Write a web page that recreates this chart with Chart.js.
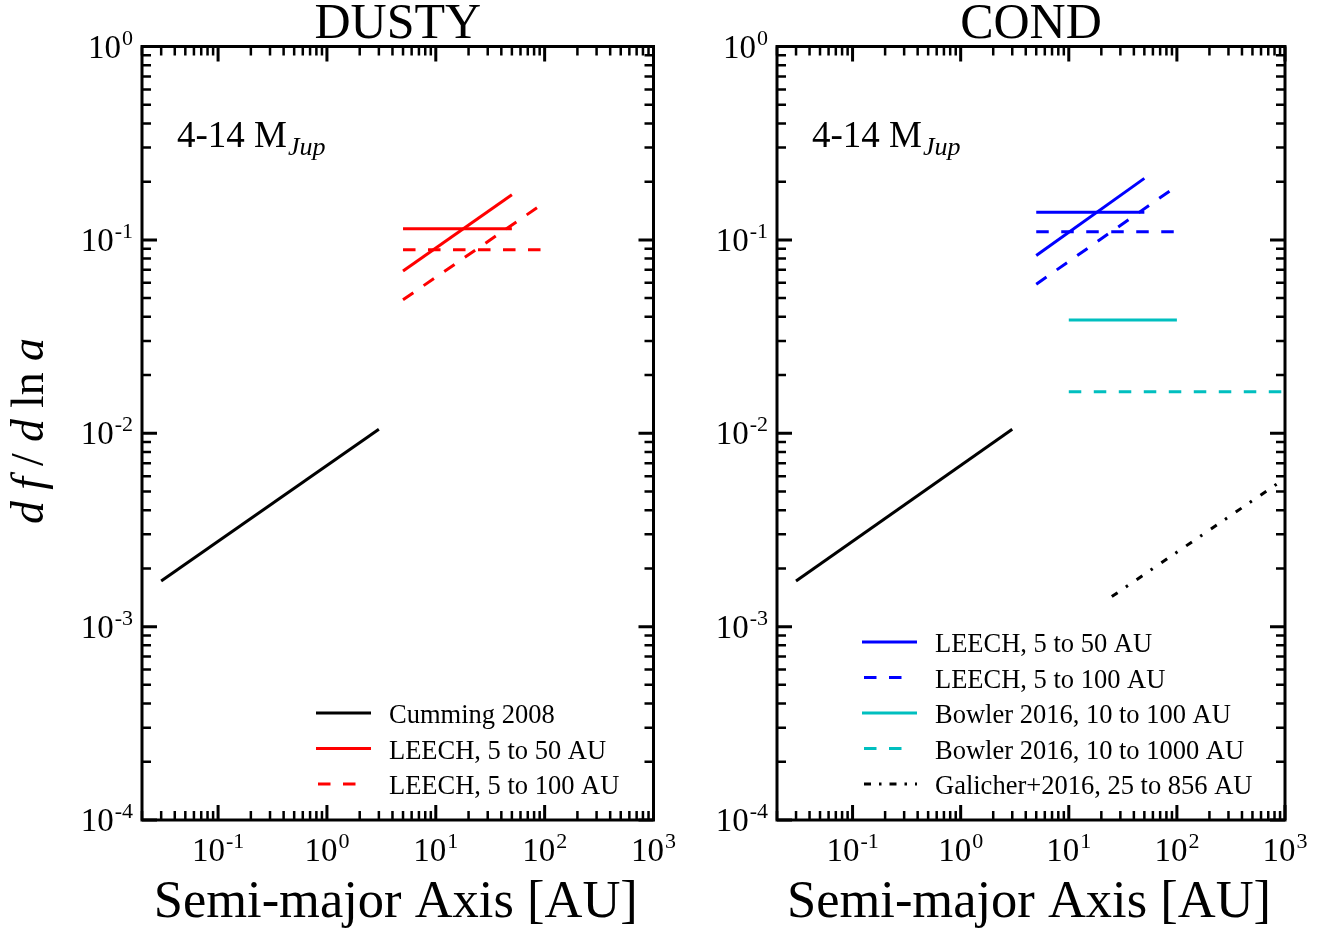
<!DOCTYPE html>
<html lang="en">
<head>
<meta charset="UTF-8">
<title>DUSTY / COND</title>
<style>
  html, body { margin: 0; padding: 0; background: #fff; overflow: hidden; width: 1333px; height: 930px; }
  canvas { position: absolute; top: 0; }
  #dusty { left: 0; }
  #cond { left: 635px; }
</style>
</head>
<body>
<canvas id="dusty" width="700" height="930"></canvas>
<canvas id="cond" width="700" height="930"></canvas>

<script src="https://cdn.jsdelivr.net/npm/chart.js"></script>
<script>
// --- data (a in AU, df/dlna) ---
const cummingA = [0.03, 3];
const cummingF = [0.00172, 0.0105];

// DUSTY panel
const dustyLeech50A = [5, 50];
const dustyLeech50Flat = [0.114, 0.114];
const dustyLeech50Slope = [0.069, 0.171];
const dustyLeech100A = [5, 100];
const dustyLeech100Flat = [0.089, 0.089];
const dustyLeech100Slope = [0.049, 0.156];

// COND panel
const condLeech50A = [5, 50];
const condLeech50Flat = [0.139, 0.139];
const condLeech50Slope = [0.083, 0.208];
const condLeech100A = [5, 100];
const condLeech100Flat = [0.110, 0.110];
const condLeech100Slope = [0.059, 0.19];
const bowler100A = [10, 100];
const bowler100F = [0.0385, 0.0385];
const bowler1000A = [10, 1000];
const bowler1000F = [0.0164, 0.0164];
const galicherA = [25, 856];
const galicherF = [0.00143, 0.0055];

// axes
const xRange = [0.02, 1000];
const yRange = [1e-4, 1];
const xDecades = [-1, 0, 1, 2, 3];
const yDecades = [-4, -3, -2, -1, 0];

const RED = '#ff0000', BLUE = '#0000ff', CYAN = '#00bfbf', BLACK = '#000000';
const DASH = [12.5, 12.5];
const DASHDOT = [7, 10, 2.5, 10.5];
const SERIF = '"Liberation Serif", "DejaVu Serif", serif';

function series(label, a, f, color, dash) {
  return {
    label: label,
    data: a.map((v, i) => ({ x: v, y: f[i] })),
    borderColor: color,
    borderWidth: 3,
    borderDash: dash || [],
    borderCapStyle: 'butt',
    pointRadius: 0,
    fill: false,
    tension: 0
  };
}

// "10" with a raised exponent
function powLabel(ctx, e, x, y, align) {
  const base = '10', sup = String(e);
  ctx.font = '33px ' + SERIF;
  const wb = ctx.measureText(base).width;
  ctx.font = '22px ' + SERIF;
  const ws = ctx.measureText(sup).width;
  const w = wb + 1 + ws;
  const x0 = align === 'center' ? x - w / 2 : x - w;
  ctx.textAlign = 'left';
  ctx.textBaseline = 'alphabetic';
  ctx.font = '33px ' + SERIF;
  ctx.fillText(base, x0, y);
  ctx.font = '22px ' + SERIF;
  ctx.fillText(sup, x0 + wb + 1, y - 13);
}

function framePlugin(title, legendItems, legendX, showYTitle) {
  return {
    id: 'frame',
    afterDraw(chart) {
      const ctx = chart.ctx;
      const { left, right, top, bottom } = chart.chartArea;
      const xs = chart.scales.x, ys = chart.scales.y;
      ctx.save();
      ctx.fillStyle = BLACK;
      ctx.strokeStyle = BLACK;

      // inward ticks on all four sides
      ctx.lineCap = 'butt';
      for (let e = -2; e <= 3; e++) {
        for (let m = 1; m <= 9; m++) {
          const v = m * Math.pow(10, e);
          if (v < xRange[0] || v > xRange[1]) continue;
          const px = xs.getPixelForValue(v);
          const len = m === 1 ? 15 : 9;
          ctx.lineWidth = m === 1 ? 3 : 2.5;
          ctx.beginPath();
          ctx.moveTo(px, bottom); ctx.lineTo(px, bottom - len);
          ctx.moveTo(px, top); ctx.lineTo(px, top + len);
          ctx.stroke();
        }
      }
      for (let e = -4; e <= 0; e++) {
        for (let m = 1; m <= 9; m++) {
          const v = m * Math.pow(10, e);
          if (v < yRange[0] || v > yRange[1]) continue;
          const py = ys.getPixelForValue(v);
          const len = m === 1 ? 15 : 9;
          ctx.lineWidth = m === 1 ? 3 : 2.5;
          ctx.beginPath();
          ctx.moveTo(left, py); ctx.lineTo(left + len, py);
          ctx.moveTo(right, py); ctx.lineTo(right - len, py);
          ctx.stroke();
        }
      }

      // frame
      ctx.lineWidth = 3;
      ctx.strokeRect(left, top, right - left, bottom - top);

      // tick labels
      xDecades.forEach(e => powLabel(ctx, e, xs.getPixelForValue(Math.pow(10, e)), bottom + 41, 'center'));
      yDecades.forEach(e => powLabel(ctx, e, left - 9, ys.getPixelForValue(Math.pow(10, e)) + 11, 'right'));

      const cx = (left + right) / 2;
      // panel title
      ctx.textAlign = 'center';
      ctx.font = '50px ' + SERIF;
      ctx.fillText(title, cx, 38);

      // x title
      ctx.font = '52.5px ' + SERIF;
      ctx.fillText('Semi-major Axis [AU]', cx - 2, 917);

      // mass range note
      ctx.textAlign = 'left';
      ctx.font = '37px ' + SERIF;
      const note = '4-14 M';
      ctx.fillText(note, left + 35, 147);
      const nw = ctx.measureText(note).width;
      ctx.font = 'italic 26px ' + SERIF;
      ctx.fillText('Jup', left + 35 + nw + 1, 155);

      // y title
      if (showYTitle) {
        const parts = [['d', 'italic '], ['f', 'italic '], ['/', ''], ['d', 'italic '], ['ln', ''], ['a', 'italic ']];
        ctx.save();
        ctx.translate(43, 431);
        ctx.rotate(-Math.PI / 2);
        let widths = parts.map(p => { ctx.font = p[1] + '46px ' + SERIF; return ctx.measureText(p[0]).width; });
        const sum = widths.reduce((a, b) => a + b, 0);
        const gap = Math.max(2, (186 - sum) / (parts.length - 1));
        let x = -(sum + gap * (parts.length - 1)) / 2;
        parts.forEach((p, i) => {
          ctx.font = p[1] + '46px ' + SERIF;
          ctx.fillText(p[0], x, 0);
          x += widths[i] + gap;
        });
        ctx.restore();
      }

      // legend (bottom right, inside the frame)
      const rowH = 35.5;
      const lastY = bottom - 36;
      const lx0 = left + legendX, tx = lx0 + 73;
      legendItems.forEach((it, i) => {
        const y = lastY - (legendItems.length - 1 - i) * rowH;
        const dashed = it.dash.length > 0;
        // dashed samples show two dashes, like the original legend
        const sx0 = dashed ? lx0 + 2 : lx0;
        const sx1 = dashed ? lx0 + 41 : lx0 + 55;
        ctx.strokeStyle = it.color;
        ctx.lineWidth = 3;
        ctx.setLineDash(it.dash === DASHDOT ? [7, 8, 2.5, 8] : it.dash);
        ctx.beginPath();
        ctx.moveTo(sx0, y); ctx.lineTo(it.dash === DASHDOT ? lx0 + 55 : sx1, y);
        ctx.stroke();
        ctx.setLineDash([]);
        ctx.fillStyle = BLACK;
        ctx.font = '26.5px ' + SERIF;
        ctx.textAlign = 'left';
        ctx.fillText(it.label, tx, y + 10);
      });
      ctx.restore();
    }
  };
}

function makePanel(id, title, datasets, legendItems, legendX, pad, showYTitle) {
  return new Chart(document.getElementById(id), {
    type: 'line',
    data: { datasets: datasets },
    options: {
      responsive: false,
      animation: false,
      devicePixelRatio: 1,
      layout: { padding: pad },
      plugins: { legend: { display: false }, tooltip: { enabled: false } },
      scales: {
        x: { type: 'logarithmic', min: xRange[0], max: xRange[1], display: false },
        y: { type: 'logarithmic', min: yRange[0], max: yRange[1], display: false }
      }
    },
    plugins: [framePlugin(title, legendItems, legendX, showYTitle)]
  });
}

makePanel('dusty', 'DUSTY', [
  series('Cumming 2008', cummingA, cummingF, BLACK),
  series('LEECH, 5 to 50 AU', dustyLeech50A, dustyLeech50Flat, RED),
  series('LEECH, 5 to 50 AU', dustyLeech50A, dustyLeech50Slope, RED),
  series('LEECH, 5 to 100 AU', dustyLeech100A, dustyLeech100Flat, RED, DASH),
  series('LEECH, 5 to 100 AU', dustyLeech100A, dustyLeech100Slope, RED, DASH)
], [
  { label: 'Cumming 2008', color: BLACK, dash: [] },
  { label: 'LEECH, 5 to 50 AU', color: RED, dash: [] },
  { label: 'LEECH, 5 to 100 AU', color: RED, dash: DASH }
], 174, { left: 142, top: 46.5, right: 46.5, bottom: 110 }, true);

makePanel('cond', 'COND', [
  series('Cumming 2008', cummingA, cummingF, BLACK),
  series('LEECH, 5 to 50 AU', condLeech50A, condLeech50Flat, BLUE),
  series('LEECH, 5 to 50 AU', condLeech50A, condLeech50Slope, BLUE),
  series('LEECH, 5 to 100 AU', condLeech100A, condLeech100Flat, BLUE, DASH),
  series('LEECH, 5 to 100 AU', condLeech100A, condLeech100Slope, BLUE, DASH),
  series('Bowler 2016, 10 to 100 AU', bowler100A, bowler100F, CYAN),
  series('Bowler 2016, 10 to 1000 AU', bowler1000A, bowler1000F, CYAN, DASH),
  series('Galicher+2016, 25 to 856 AU', galicherA, galicherF, BLACK, DASHDOT)
], [
  { label: 'LEECH, 5 to 50 AU', color: BLUE, dash: [] },
  { label: 'LEECH, 5 to 100 AU', color: BLUE, dash: DASH },
  { label: 'Bowler 2016, 10 to 100 AU', color: CYAN, dash: [] },
  { label: 'Bowler 2016, 10 to 1000 AU', color: CYAN, dash: DASH },
  { label: 'Galicher+2016, 25 to 856 AU', color: BLACK, dash: DASHDOT }
], 85, { left: 142, top: 46.5, right: 50, bottom: 110 }, false);
</script>
</body>
</html>
